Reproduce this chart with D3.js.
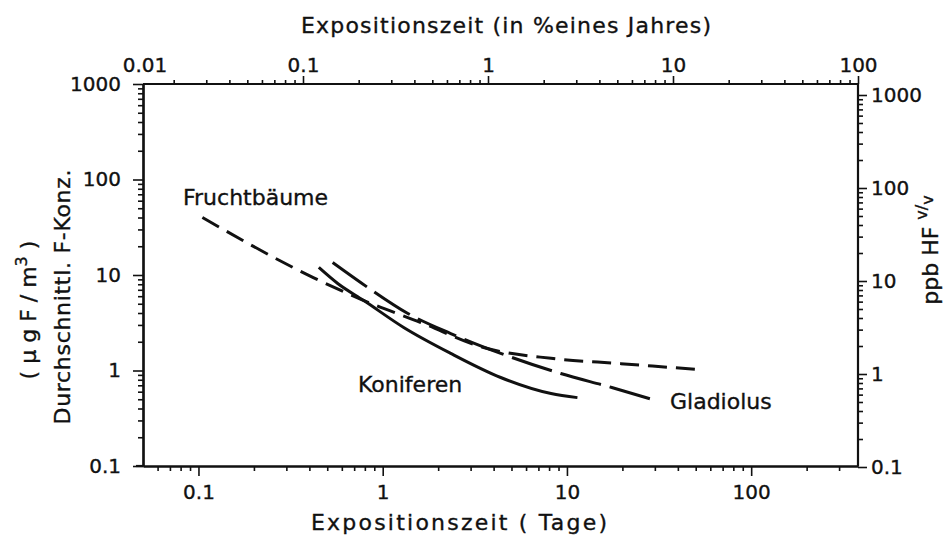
<!DOCTYPE html>
<html><head><meta charset="utf-8">
<script src="https://cdn.jsdelivr.net/npm/d3@7"></script>
<style>
body{margin:0;background:#fff}
text{font-family:"DejaVu Sans",sans-serif;fill:#111;stroke:#111;stroke-width:0.35px}
</style>
</head><body>
<svg id="c" width="946" height="542"></svg>
<script>
// ---- data ----
const xMajorTicks = [0.1, 1, 10, 100];
const xTopMajorTicks = [0.1, 1, 10, 100];
const xTopFirstLabel = [0.01];
const yMajorTicks = [0.1, 1, 10, 100, 1000];
const seriesNames = ["Fruchtbäume", "Koniferen", "Gladiolus"];
const fruchtDays = [0.105, 0.42, 0.79, 1.61, 3.53, 8.2, 19.6, 53];
const fruchtConc = [40, 9.4, 5.4, 3.18, 1.74, 1.34, 1.18, 1.02];
const konifDays = [0.45, 0.57, 0.79, 1.30, 2.34, 4.37, 8.2, 11.4];
const konifConc = [12.0, 8.15, 5.4, 2.82, 1.51, 0.845, 0.574, 0.52];
const gladDays = [0.535, 0.83, 1.37, 2.34, 4.37, 9.25, 17.7, 30.3];
const gladConc = [13.5, 7.4, 3.95, 2.44, 1.51, 0.93, 0.66, 0.485];
const xTitleBottom = "Expositionszeit ( Tage)";
const xTitleTop = "Expositionszeit (in %eines Jahres)";

// ---- layout ----
const L = 143, R = 858, T = 84, B = 466;
const svg = d3.select("#c");

const x = d3.scaleLog().domain([0.05, 380]).range([L, R]);
const xTop = d3.scaleLog().domain([0.01, 100]).range([118, R]);
const yL = d3.scaleLog().domain([0.1, 1000]).range([B, T]);
const yR = d3.scaleLog().domain([0.1, 1000]).range([B + 1, 95]);

function minors(lo, hi) {
  const out = [];
  for (let e = -3; e <= 3; e++) for (let m = 2; m <= 9; m++) {
    const v = m * Math.pow(10, e);
    if (v > lo && v < hi) out.push(v);
  }
  return out;
}
const fmt = v => String(v);

function styleAxis(g) {
  g.selectAll("path.domain").attr("stroke", "#111").attr("stroke-width", 2.2);
  g.selectAll(".tick line").attr("stroke", "#111").attr("stroke-width", 1.6);
  g.selectAll("text").attr("font-size", 20).attr("fill", "#111")
    .attr("font-family", '"DejaVu Sans",sans-serif');
}

// bottom axis
const gB = svg.append("g").attr("transform", `translate(0,${B})`);
gB.call(d3.axisBottom(x).tickValues(minors(0.05, 380)).tickSize(5).tickFormat("").tickSizeOuter(0));
styleAxis(gB);
const gB2 = svg.append("g").attr("transform", `translate(0,${B})`);
gB2.call(d3.axisBottom(x).tickValues(xMajorTicks).tickSize(10).tickPadding(9).tickFormat(fmt).tickSizeOuter(0));
styleAxis(gB2);

// top axis
const gT = svg.append("g").attr("transform", `translate(0,${T})`);
gT.call(d3.axisTop(xTop).tickValues(minors(0.0137, 100)).tickSize(4).tickFormat("").tickSizeOuter(0));
styleAxis(gT);
gT.select("path.domain").attr("d", `M${L},0H${R}`);
const gT2 = svg.append("g").attr("transform", `translate(0,${T})`);
gT2.call(d3.axisTop(xTop).tickValues(xTopMajorTicks).tickSize(8).tickPadding(4).tickFormat(fmt).tickSizeOuter(0));
styleAxis(gT2);
gT2.select("path.domain").remove();
gT2.selectAll("text.first").data(xTopFirstLabel).enter().append("text")
  .attr("x", d => Math.max(xTop(d), L + 2)).attr("y", -12)
  .attr("text-anchor", "middle").attr("font-size", 20).text(fmt);

// left axis
const gLf = svg.append("g").attr("transform", `translate(${L},0)`);
gLf.call(d3.axisLeft(yL).tickValues(minors(0.1, 1000)).tickSize(5).tickFormat("").tickSizeOuter(0));
styleAxis(gLf);
const gLf2 = svg.append("g").attr("transform", `translate(${L},0)`);
gLf2.call(d3.axisLeft(yL).tickValues(yMajorTicks).tickSize(10).tickPadding(12).tickFormat(fmt).tickSizeOuter(0));
styleAxis(gLf2);

// right axis
const gRt = svg.append("g").attr("transform", `translate(${R},0)`);
gRt.call(d3.axisRight(yR).tickValues(minors(0.1, 1000)).tickSize(5).tickFormat("").tickSizeOuter(0));
styleAxis(gRt);
gRt.select("path.domain").attr("d", `M0,${T}V${B}`);
const gRt2 = svg.append("g").attr("transform", `translate(${R},0)`);
gRt2.call(d3.axisRight(yR).tickValues(yMajorTicks).tickSize(9).tickPadding(4).tickFormat(fmt).tickSizeOuter(0));
styleAxis(gRt2);
gRt2.select("path.domain").remove();

// bottom axis line extends slightly to the left like the original
svg.append("line").attr("x1", L - 7).attr("x2", L).attr("y1", B).attr("y2", B)
  .attr("stroke", "#111").attr("stroke-width", 2.2);

// ---- series ----
const line = d3.line().x(d => x(d[0])).y(d => yL(d[1])).curve(d3.curveMonotoneX);
const series = [
  { name: seriesNames[0], days: fruchtDays, conc: fruchtConc, dash: "19 9" },
  { name: seriesNames[1], days: konifDays, conc: konifConc, dash: null },
  { name: seriesNames[2], days: gladDays, conc: gladConc, dash: "42 9" }
];
series.forEach(s => {
  svg.append("path")
    .datum(s.days.map((d, i) => [d, s.conc[i]]))
    .attr("d", line).attr("fill", "none").attr("stroke", "#111")
    .attr("stroke-width", 3).attr("stroke-dasharray", s.dash);
});

// series labels
const lab = [
  { t: seriesNames[0], x: 183, y: 205 },
  { t: seriesNames[1], x: 358, y: 392 },
  { t: seriesNames[2], x: 670, y: 409 }
];
svg.selectAll("text.lab").data(lab).enter().append("text")
  .attr("class", "lab").attr("x", d => d.x).attr("y", d => d.y)
  .attr("font-size", 22).text(d => d.t);

// ---- titles ----
svg.append("text").attr("x", 506).attr("y", 33).attr("text-anchor", "middle")
  .attr("font-size", 22).attr("textLength", 410).attr("lengthAdjust", "spacing").text(xTitleTop);
svg.append("text").attr("x", 459).attr("y", 530).attr("text-anchor", "middle")
  .attr("font-size", 22).attr("textLength", 296).attr("lengthAdjust", "spacing").text(xTitleBottom);

// left titles
const t1 = svg.append("text").attr("transform", "translate(36,310) rotate(-90)")
  .attr("text-anchor", "middle").attr("font-size", 22);
t1.append("tspan").text("( µ g F / m");
t1.append("tspan").attr("dy", -9).attr("font-size", 16).text("3");
t1.append("tspan").attr("dy", 9).text(" )");
svg.append("text").attr("transform", "translate(70,297) rotate(-90)")
  .attr("text-anchor", "middle").attr("font-size", 22)
  .attr("textLength", 255).attr("lengthAdjust", "spacing").text("Durchschnittl. F-Konz.");

// right title
const t2 = svg.append("text").attr("transform", "translate(938,250) rotate(-90)")
  .attr("text-anchor", "middle").attr("font-size", 22);
t2.append("tspan").text("ppb HF ");
t2.append("tspan").attr("dy", -11).attr("font-size", 16).text("v");
t2.append("tspan").attr("font-size", 16).text("/");
t2.append("tspan").attr("dy", 6).attr("font-size", 16).text("v");
</script>
</body></html>
